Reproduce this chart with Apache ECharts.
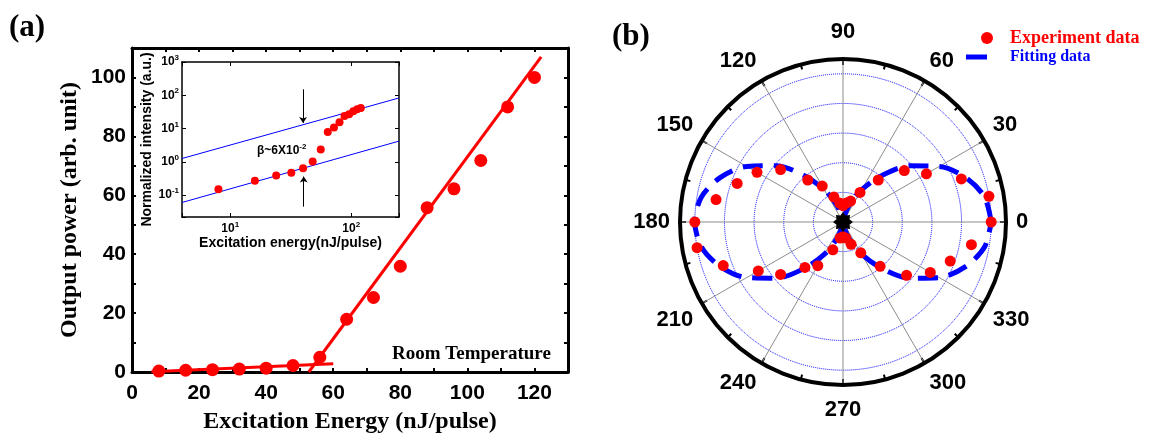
<!DOCTYPE html>
<html><head><meta charset="utf-8">
<script src="https://cdn.jsdelivr.net/npm/echarts@6/dist/echarts.min.js"></script>
<style>html,body{margin:0;padding:0;background:#fff}#c{width:1149px;height:437px}</style>
</head><body><div id="c"></div>
<script>
// ---- Panel (a): main lasing curve ----
const energy = [8,16,24,32,40,48,56,64,72,80,88,96,104,112,120];
const outputPower = [0.3,0.6,0.8,1.0,1.3,2.2,5.0,17.9,25.3,35.9,55.8,62.2,71.8,90,100];
const fitBelow = [[5.8,0.1],[60,2.8]];
const fitAbove = [[52.7,0],[122,107]];
const xTicks = [0,20,40,60,80,100,120];
const yTicks = [0,20,40,60,80,100];
// ---- Panel (a): inset (log-log) ----
const insetIntensity = [0.151,0.269,0.39,0.468,0.646,1.02,2.36,7.9,10.8,15.5,24,27,33,38,41.8];
const insetLineLow = [[4,0.06],[248,4.2]];
const insetLineHigh = [[4,1.26],[248,83]];
const arrowDown = [[40,151],[40,14.8]];
const arrowUp = [[40.5,0.045],[40.5,0.36]];
// ---- Panel (b): polarization ----
const expAngles = [0,10,20,30,40,50,60,70,80,90,100,110,120,130,140,150,160,170,180,190,200,210,220,230,240,250,260,270,280,290,300,310,320,330,340,350];
const expValues = [1.00,1.00,0.85,0.65,0.54,0.37,0.23,0.15,0.13,0.11,0.13,0.18,0.28,0.37,0.55,0.67,0.76,0.87,1.00,1.00,0.86,0.66,0.55,0.40,0.34,0.20,0.11,0.10,0.11,0.16,0.24,0.39,0.56,0.68,0.77,0.88];
const fitAngles = [0,10,20,30,40,50,60,70,80,90,100,110,120,130,140,150,160,170,180,190,200,210,220,230,240,250,260,270,280,290,300,310,320,330,340,350,360];
const fitValues = [1.00,0.97,0.88,0.75,0.59,0.41,0.25,0.12,0.03,0.00,0.03,0.12,0.25,0.41,0.59,0.75,0.88,0.97,1.00,0.97,0.88,0.75,0.59,0.41,0.25,0.12,0.03,0.00,0.03,0.12,0.25,0.41,0.59,0.75,0.88,0.97,1.00];

const SANS = 'Liberation Sans', SERIF = 'Liberation Serif';
function starPath(n, r1, r2){let p='';for(let i=0;i<2*n;i++){const r=i%2?r2:r1;const a=Math.PI*i/n;p+=(i?'L':'M')+(r*Math.cos(a)).toFixed(2)+' '+(r*Math.sin(a)).toFixed(2);}return 'path://'+p+'Z';}
function logFmt(v){const e=Math.log10(v);const r=Math.round(e);if(Math.abs(e-r)>1e-6)return '';return '{b|10}{s|'+r+'}';}
const supRich = {b:{fontSize:12,fontWeight:'bold',fontFamily:SANS,color:'#000'},s:{fontSize:8,fontWeight:'bold',fontFamily:SANS,color:'#000',padding:[0,0,8,0]}};
const black = '#000';
const mainAxisLine = {onZero:false,lineStyle:{color:black,width:3}};
const mainTick = {show:true,inside:true,length:4,lineStyle:{color:black,width:2}};
const insetAxisLine = {onZero:false,lineStyle:{color:black,width:1.5}};
const insetTick = {show:true,inside:true,length:4,lineStyle:{color:black,width:1}};
const angleLabelRich = {
  top:{fontFamily:SANS,fontWeight:'bold',fontSize:22,color:black,padding:[0,0,6,0]},
  bot:{fontFamily:SANS,fontWeight:'bold',fontSize:22,color:black,padding:[4,0,0,0]}
};

const chart = echarts.init(document.getElementById('c'), null, {renderer:'canvas'});
chart.setOption({
  animation:false,
  backgroundColor:'#fff',
  title:[
    {text:'(a)',left:9,top:12,padding:0,textStyle:{fontFamily:SERIF,fontWeight:'bold',fontSize:31,color:black}},
    {text:'(b)',left:612,top:21,padding:0,textStyle:{fontFamily:SERIF,fontWeight:'bold',fontSize:31,color:black}},
    {text:'Room Temperature',left:392,top:345,padding:0,textStyle:{fontFamily:SERIF,fontWeight:'bold',fontSize:19,color:black}},
    {text:'{a|β~6X10}{s|-2}',left:257,top:143,padding:0,textStyle:{rich:{a:{fontFamily:SANS,fontWeight:'bold',fontSize:12,color:black},s:{fontFamily:SANS,fontWeight:'bold',fontSize:8,color:black,padding:[0,0,7,0]}}}}
  ],
  legend:[
    {data:[{name:'Experiment data',icon:'circle'}],left:981,top:29,itemWidth:12,itemHeight:12,padding:0,
     textStyle:{color:'#ff0000',fontFamily:SERIF,fontWeight:'bold',fontSize:18,padding:[0,0,0,12]}},
    {data:[{name:'Fitting data',icon:'rect'}],left:966,top:49,itemWidth:21,itemHeight:5,padding:0,
     itemStyle:{color:'#0000ff'},
     textStyle:{color:'#0000ff',fontFamily:SERIF,fontWeight:'bold',fontSize:16,padding:[0,0,0,18]}}
  ],
  grid:[
    {left:132,top:48,width:436,height:324,outerBoundsMode:'none'},
    {left:182,top:62,width:217,height:155,show:true,backgroundColor:'#fff',borderWidth:0,z:5,outerBoundsMode:'none'}
  ],
  xAxis:[
    {gridIndex:0,type:'value',min:0,max:130,interval:10,axisLine:mainAxisLine,axisTick:mainTick,splitLine:{show:false},
     axisLabel:{margin:11,fontFamily:SANS,fontWeight:'bold',fontSize:21,color:black,formatter:v=>xTicks.includes(v)?String(v):''},
     name:'Excitation Energy (nJ/pulse)',nameLocation:'middle',nameGap:38,
     nameTextStyle:{fontFamily:SERIF,fontWeight:'bold',fontSize:24,color:black}},
    {gridIndex:0,type:'value',position:'top',min:0,max:130,interval:10,axisLine:mainAxisLine,axisTick:mainTick,axisLabel:{show:false},splitLine:{show:false}},
    {gridIndex:1,type:'log',min:4,max:248,axisLine:insetAxisLine,axisTick:insetTick,splitLine:{show:false},
     axisLabel:{margin:4,formatter:logFmt,rich:supRich},
     name:'Excitation energy(nJ/pulse)',nameLocation:'middle',nameGap:13,
     nameTextStyle:{fontFamily:SANS,fontWeight:'bold',fontSize:14,color:black},z:6},
    {gridIndex:1,type:'log',position:'top',min:4,max:248,axisLine:insetAxisLine,axisTick:insetTick,axisLabel:{show:false},splitLine:{show:false},z:6}
  ],
  yAxis:[
    {gridIndex:0,type:'value',min:0,max:110,interval:10,axisLine:mainAxisLine,axisTick:mainTick,splitLine:{show:false},
     axisLabel:{margin:6,fontFamily:SANS,fontWeight:'bold',fontSize:21,color:black,formatter:v=>yTicks.includes(v)?String(v):''},
     name:'Output power (arb. unit)',nameLocation:'middle',nameGap:50,
     nameTextStyle:{fontFamily:SERIF,fontWeight:'bold',fontSize:24,color:black}},
    {gridIndex:0,type:'value',position:'right',min:0,max:110,interval:10,axisLine:mainAxisLine,axisTick:mainTick,axisLabel:{show:false},splitLine:{show:false}},
    {gridIndex:1,type:'log',min:0.022,max:1000,axisLine:insetAxisLine,axisTick:insetTick,splitLine:{show:false},
     axisLabel:{margin:3,formatter:logFmt,rich:supRich},
     name:'Normalized intensity (a.u.)',nameLocation:'middle',nameGap:27,
     nameTextStyle:{fontFamily:SANS,fontWeight:'bold',fontSize:14,color:black},z:6},
    {gridIndex:1,type:'log',position:'right',min:0.022,max:1000,axisLine:insetAxisLine,axisTick:insetTick,axisLabel:{show:false},splitLine:{show:false},z:6}
  ],
  polar:{center:[843,222],radius:163},
  angleAxis:{type:'value',min:0,max:360,interval:30,startAngle:0,clockwise:false,
    axisLine:{lineStyle:{color:black,width:4}},
    axisTick:{show:true,inside:true,length:6,lineStyle:{color:black,width:2}},
    minorTick:{show:true,splitNumber:2,length:5,lineStyle:{color:black,width:2}},
    axisLabel:{margin:10,fontFamily:SANS,fontWeight:'bold',fontSize:22,color:black,rich:angleLabelRich,
      formatter:v=>v===360?'':(v===90?'{top|90}':(v===270?'{bot|270}':String(v)))},
    splitLine:{show:true,lineStyle:{color:'#8c8c8c',width:1}}},
  radiusAxis:{type:'value',min:0,max:1.1,interval:0.2,axisLine:{show:false},axisTick:{show:false},axisLabel:{show:false},
    splitLine:{show:true,lineStyle:{color:'#0000ff',type:'dotted',width:1}}},
  series:[
    {type:'scatter',xAxisIndex:0,yAxisIndex:0,symbolSize:13,itemStyle:{color:'#ff0000',opacity:1},data:energy.map((e,i)=>[e,outputPower[i]]),z:3},
    {type:'line',xAxisIndex:0,yAxisIndex:0,showSymbol:false,symbol:'none',lineStyle:{color:'#ff0000',width:3},data:fitBelow,z:2},
    {type:'line',xAxisIndex:0,yAxisIndex:0,showSymbol:false,symbol:'none',lineStyle:{color:'#ff0000',width:3},data:fitAbove,z:2},
    {type:'line',xAxisIndex:2,yAxisIndex:2,showSymbol:false,symbol:'none',lineStyle:{color:'#0000ff',width:1},data:insetLineLow,z:7},
    {type:'line',xAxisIndex:2,yAxisIndex:2,showSymbol:false,symbol:'none',lineStyle:{color:'#0000ff',width:1},data:insetLineHigh,z:7},
    {type:'scatter',xAxisIndex:2,yAxisIndex:2,symbolSize:8,itemStyle:{color:'#ff0000',opacity:1},data:energy.map((e,i)=>[e,insetIntensity[i]]),z:8},
    {type:'lines',coordinateSystem:'cartesian2d',xAxisIndex:2,yAxisIndex:2,symbol:['none','arrow'],symbolSize:6,
     lineStyle:{color:black,width:1,opacity:1},data:[{coords:arrowDown},{coords:arrowUp}],z:8},
    {name:'Fitting data',type:'line',coordinateSystem:'polar',showSymbol:false,symbol:'none',smooth:0.3,
     lineStyle:{color:'#0000ff',width:5,type:[20,11],cap:'butt'},itemStyle:{color:'#0000ff'},
     data:fitAngles.map((a,i)=>[fitValues[i],a]),z:3},
    {name:'Experiment data',type:'scatter',coordinateSystem:'polar',symbolSize:11,itemStyle:{color:'#ff0000',opacity:1},
     data:expAngles.map((a,i)=>[expValues[i],a]),z:4},
    {type:'scatter',coordinateSystem:'polar',symbol:starPath(8,10,7),symbolSize:20,itemStyle:{color:black,opacity:1},data:[[0,0]],z:5}
  ]
});
</script></body></html>
